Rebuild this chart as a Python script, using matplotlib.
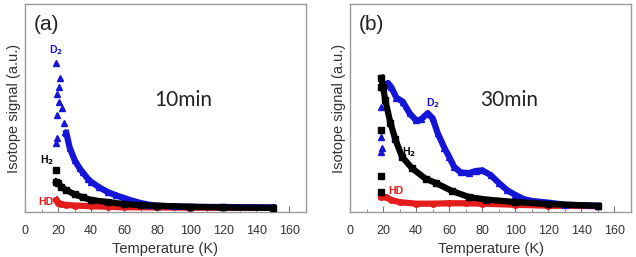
import numpy as np
import matplotlib.pyplot as plt

plt.rcParams['font.family'] = ['Liberation Sans', 'DejaVu Sans']

# ---- panel (a): 10 min ----
a_d2_T = [25, 27, 30, 33, 35, 38, 40, 45, 50, 55, 60, 65, 70, 75, 80, 90, 100, 120, 150]
a_d2_y = [0.38, 0.31, 0.25, 0.21, 0.19, 0.16, 0.145, 0.118, 0.096, 0.08, 0.067, 0.054, 0.043, 0.035, 0.03, 0.027, 0.025, 0.024, 0.022]
# scattered early D2 points
a_d2s_T = [19.0, 21.0, 20.3, 19.6, 20.5, 19.2, 22.5, 23.5, 24.2, 19.0, 19.3]
a_d2s_y = [0.716, 0.644, 0.60, 0.567, 0.53, 0.466, 0.50, 0.43, 0.385, 0.33, 0.355]

a_h2_T = [19, 20, 22, 25, 30, 35, 40, 50, 60, 70, 80, 100, 120, 150]
a_h2_y = [0.145, 0.14, 0.12, 0.105, 0.085, 0.07, 0.058, 0.048, 0.038, 0.033, 0.03, 0.025, 0.022, 0.02]
a_h2s_T = [19]
a_h2s_y = [0.2]

a_hd_T = [19, 20, 22, 25, 30, 40, 50, 60, 80, 100, 150]
a_hd_y = [0.058, 0.045, 0.038, 0.034, 0.031, 0.028, 0.025, 0.023, 0.022, 0.021, 0.02]

# ---- panel (b): 30 min ----
b_d2_T = [21, 23, 25, 28, 32, 36, 40, 43, 47, 50, 53, 57, 60, 63, 67, 72, 76, 80, 85, 90, 95, 100, 105, 110, 120, 130, 150]
b_d2_y = [0.61, 0.62, 0.60, 0.55, 0.53, 0.475, 0.44, 0.445, 0.475, 0.45, 0.38, 0.31, 0.265, 0.217, 0.19, 0.187, 0.197, 0.2, 0.178, 0.14, 0.105, 0.082, 0.062, 0.053, 0.045, 0.035, 0.03]
b_d2s_T = [19, 19, 19, 19.3]
b_d2s_y = [0.505, 0.36, 0.29, 0.31]

b_h2_T = [19, 20, 21.3, 24.4, 27.4, 31.5, 37.6, 45.7, 51.8, 62, 72, 82, 100, 120, 150]
b_h2_y = [0.645, 0.60, 0.54, 0.43, 0.35, 0.265, 0.21, 0.16, 0.14, 0.10, 0.072, 0.06, 0.048, 0.038, 0.03]
b_h2s_T = [19, 19, 19, 19]
b_h2s_y = [0.60, 0.394, 0.175, 0.097]

b_hd_T = [19, 22, 25, 30, 40, 50, 60, 70, 80, 100, 120, 150]
b_hd_y = [0.073, 0.07, 0.058, 0.047, 0.04, 0.04, 0.042, 0.042, 0.04, 0.035, 0.03, 0.028]

BLUE = '#1515d8'
RED = '#e51c1c'
BLACK = '#000000'
GRAY = '#333333'


def draw_panel(ax, hd, h2, h2s, d2, d2s, letter, label, labpos):
    ax.plot(hd[0], hd[1], color=RED, lw=4.5, marker='o', ms=4, zorder=2)
    ax.plot(d2[0], d2[1], color=BLUE, lw=4.5, marker='^', ms=5, zorder=3)
    ax.plot(d2s[0], d2s[1], ls='none', color=BLUE, marker='^', ms=5, zorder=3)
    ax.plot(h2[0], h2[1], color=BLACK, lw=4.5, marker='s', ms=4, zorder=4)
    ax.plot(h2s[0], h2s[1], ls='none', color=BLACK, marker='s', ms=4, zorder=4)

    ax.set_xlim(0, 170)
    ax.set_ylim(0, 1)
    ax.set_xticks(np.arange(0, 161, 20))
    ax.set_xticks(np.arange(10, 170, 20), minor=True)
    ax.tick_params(axis='x', which='major', direction='in', length=4, color='#777777', labelsize=9, labelcolor=GRAY, pad=9)
    ax.tick_params(axis='x', which='minor', direction='in', length=2.5, color='#777777')
    ax.set_yticks([])
    for s in ax.spines.values():
        s.set_color('#999999')
        s.set_linewidth(1.0)
    ax.set_xlabel('Temperature (K)', fontsize=10.5, color=GRAY, labelpad=4)
    ax.set_ylabel('Isotope signal (a.u.)', fontsize=10.5, color=GRAY, labelpad=3)

    ax.text(0.075, 0.9, letter, transform=ax.transAxes, ha='center', va='center', fontsize=15, color='#222222')
    ax.text(0.565, 0.54, label, transform=ax.transAxes, ha='center', va='center', fontsize=15, color='#222222', family=['Lato', 'DejaVu Sans'])

    ax.text(labpos['D2'][0], labpos['D2'][1], 'D$_2$', color=BLUE, fontsize=7.5, fontweight='bold', ha='center', va='center')
    ax.text(labpos['H2'][0], labpos['H2'][1], 'H$_2$', color=BLACK, fontsize=7.5, fontweight='bold', ha='center', va='center')
    ax.text(labpos['HD'][0], labpos['HD'][1], 'HD', color=RED, fontsize=7.5, fontweight='bold', ha='center', va='center')


plt.rcParams['mathtext.default'] = 'bf'
fig = plt.figure(figsize=(6.36, 2.57), dpi=100)
ax1 = fig.add_axes([25 / 636, 45 / 257, 281 / 636, 208 / 257])
ax2 = fig.add_axes([350 / 636, 45 / 257, 281 / 636, 208 / 257])

draw_panel(ax1, (a_hd_T, a_hd_y), (a_h2_T, a_h2_y), (a_h2s_T, a_h2s_y),
           (a_d2_T, a_d2_y), (a_d2s_T, a_d2s_y), '(a)', '10min',
           {'D2': (18.5, 0.78), 'H2': (13, 0.25), 'HD': (12.5, 0.05)})
draw_panel(ax2, (b_hd_T, b_hd_y), (b_h2_T, b_h2_y), (b_h2s_T, b_h2s_y),
           (b_d2_T, b_d2_y), (b_d2s_T, b_d2s_y), '(b)', '30min',
           {'D2': (50, 0.525), 'H2': (35.5, 0.29), 'HD': (28, 0.1)})

fig.savefig('out.png', dpi=100)
